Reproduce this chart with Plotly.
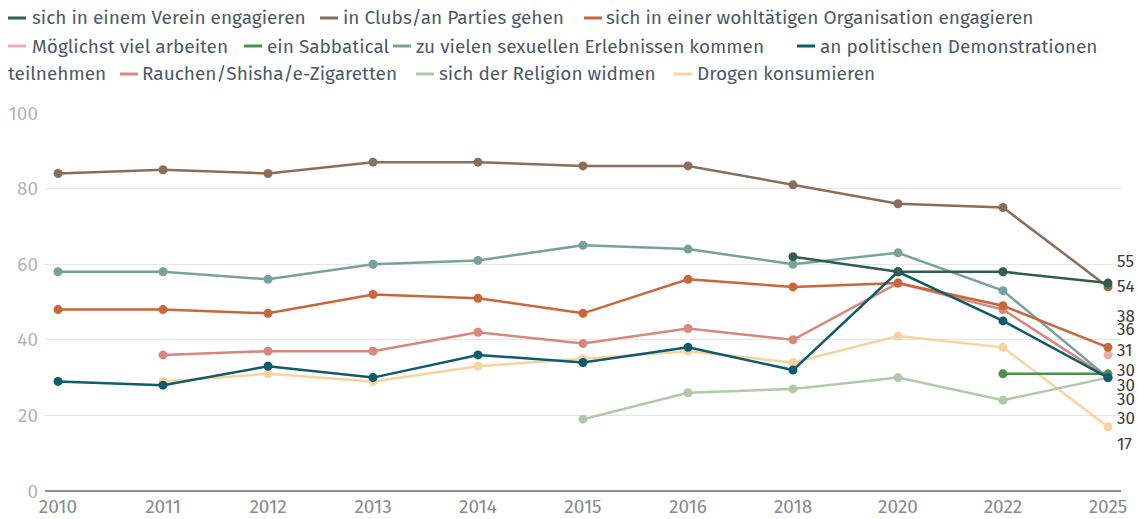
import plotly.graph_objects as go

years = ["2010", "2011", "2012", "2013", "2014", "2015", "2016", "2018", "2020", "2022", "2025"]

names = [
    "sich in einem Verein engagieren",
    "in Clubs/an Parties gehen",
    "sich in einer wohltätigen Organisation engagieren",
    "Möglichst viel arbeiten",
    "ein Sabbatical",
    "zu vielen sexuellen Erlebnissen kommen",
    "an politischen Demonstrationen teilnehmen",
    "Rauchen/Shisha/e-Zigaretten",
    "sich der Religion widmen",
    "Drogen konsumieren",
]

N = None
verein = [N, N, N, N, N, N, N, 62, 58, 58, 55]
clubs = [84, 85, 84, 87, 87, 86, 86, 81, 76, 75, 54]
wohltaetig = [48, 48, 47, 52, 51, 47, 56, 54, 55, 49, 38]
arbeiten = [N, N, N, N, N, N, N, N, N, N, 36]
sabbatical = [N, N, N, N, N, N, N, N, N, 31, 31]
sexuell = [58, 58, 56, 60, 61, 65, 64, 60, 63, 53, 30]
demos = [29, 28, 33, 30, 36, 34, 38, 32, 58, 45, 30]
rauchen = [N, 36, 37, 37, 42, 39, 43, 40, 55, 48, 30]
religion = [N, N, N, N, N, 19, 26, 27, 30, 24, 30]
drogen = [N, 29, 31, 29, 33, 35, 37, 34, 41, 38, 17]

series = [verein, clubs, wohltaetig, arbeiten, sabbatical, sexuell, demos, rauchen, religion, drogen]

colors = ["#2F5E4A", "#8C6D57", "#C9663A", "#E4B0A9", "#4F8F4C",
          "#76A19D", "#0D5B6C", "#D8877C", "#B0CAA9", "#F9D29F"]

# end label vertical positions (layout, in axis units), ordered by final value desc
end_label_y = [60.6, 54.0, 46.2, 42.8, 37.2, 31.8, 28.0, 24.2, 19.2, 12.4]

# legend layout (pixel positions): (row_y, line_x0, text_x)
legend_pos = [
    (18, 8, 32), (18, 320, 343), (18, 584, 606),
    (46, 8, 32), (46, 244, 267), (46, 393, 416), (46, 797, 820),
    (74, 120, 142), (74, 416, 439), (74, 674, 697),
]

W, H = 1138, 519
ML, MR, MT, MB = 45, 17, 113, 28
PW, PH = W - ML - MR, H - MT - MB


def px(x):
    return (x - ML) / PW


def py(y):
    return (H - MB - y) / PH


fig = go.Figure()
draw_order = [9, 8, 7, 5, 4, 3, 2, 1, 6, 0]
for i in draw_order:
    fig.add_trace(go.Scatter(
        x=years, y=series[i], name=names[i], mode="lines+markers",
        line=dict(color=colors[i], width=2.5),
        marker=dict(color=colors[i], size=9),
        connectgaps=False, showlegend=False, cliponaxis=False,
    ))

font = "Fira Sans, Noto Sans, sans-serif"
FS = 19
ann = []
shapes = []
legend_text_color = "#4B5A66"
for i, (ry, lx, tx) in enumerate(legend_pos):
    label = names[i]
    if i == 6:
        label = "an politischen Demonstrationen"
    shapes.append(dict(type="line", xref="paper", yref="paper",
                       x0=px(lx), x1=px(lx + 18), y0=py(ry), y1=py(ry),
                       line=dict(color=colors[i], width=3)))
    ann.append(dict(xref="paper", yref="paper", x=px(tx - 2), y=py(ry),
                    text=label, showarrow=False, xanchor="left", yanchor="middle",
                    font=dict(family=font, size=FS, color=legend_text_color)))
ann.append(dict(xref="paper", yref="paper", x=px(6), y=py(74),
                text="teilnehmen", showarrow=False, xanchor="left", yanchor="middle",
                font=dict(family=font, size=FS, color=legend_text_color)))

# end labels
final = [(s[-1], i) for i, s in enumerate(series)]
order = sorted(range(len(final)), key=lambda k: -final[k][0])
last_idx = len(years) - 1
for rank, k in enumerate(order):
    ann.append(dict(x=last_idx, y=end_label_y[rank], xref="x", yref="y",
                    text=str(final[k][0]), showarrow=False, xanchor="left",
                    yanchor="middle", xshift=7,
                    font=dict(family=font, size=17, color="#3C3C3C")))

fig.update_layout(
    width=W, height=H,
    margin=dict(l=ML, r=MR, t=MT, b=MB, autoexpand=False),
    plot_bgcolor="white", paper_bgcolor="white",
    showlegend=False,
    annotations=ann, shapes=shapes,
    font=dict(family=font),
    xaxis=dict(type="category", range=[-0.124, 10.124], showgrid=False,
               showline=False, zeroline=False, ticks="", automargin=False,
               ticklabelstandoff=2,
               tickfont=dict(size=FS, color="#8A8A8A")),
    yaxis=dict(range=[0, 100], tickvals=[0, 20, 40, 60, 80, 100],
               showgrid=True, gridcolor="#E6E6E6", gridwidth=1,
               zeroline=True, zerolinecolor="#8E8E8E", zerolinewidth=2,
               showline=False, ticks="", ticklabelstandoff=6, automargin=False,
               tickfont=dict(size=FS, color="#B4B4B4")),
)

fig.write_html("out.html", config={"displayModeBar": False},
               post_script="document.body.style.margin='0';document.body.style.overflow='hidden';")
